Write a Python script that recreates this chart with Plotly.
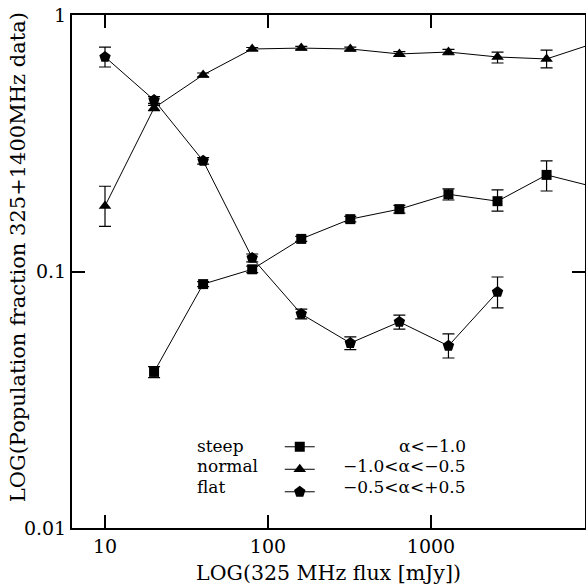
import math
import plotly.graph_objects as go

# Data
x_flat = [10, 20, 40, 80, 160, 320, 640, 1280, 2560]
y_flat = [0.686, 0.466, 0.270, 0.113, 0.0683, 0.0526, 0.0636, 0.0513, 0.0832]
e_flat_up = [0.064, 0.015, 0.008, 0.004, 0.003, 0.003, 0.004, 0.0058, 0.012]
e_flat_dn = [0.059, 0.014, 0.008, 0.004, 0.003, 0.003, 0.004, 0.0053, 0.011]

x_normal = [10, 20, 40, 80, 160, 320, 640, 1280, 2560, 5120, 10240]
y_normal = [0.180, 0.434, 0.584, 0.737, 0.743, 0.737, 0.705, 0.717, 0.686, 0.674, 0.779]
e_normal_up = [0.035, 0.010, 0.010, 0.010, 0.012, 0.012, 0.015, 0.017, 0.031, 0.056, 0.06]
e_normal_dn = [0.030, 0.010, 0.010, 0.010, 0.012, 0.012, 0.015, 0.017, 0.036, 0.052, 0.06]

x_steep = [20, 40, 80, 160, 320, 640, 1280, 2560, 5120, 10240]
y_steep = [0.0406, 0.0893, 0.102, 0.134, 0.160, 0.175, 0.200, 0.188, 0.238, 0.213]
e_steep_up = [0.002, 0.002, 0.003, 0.003, 0.004, 0.006, 0.010, 0.020, 0.032, 0.03]
e_steep_dn = [0.002, 0.002, 0.003, 0.003, 0.004, 0.006, 0.010, 0.016, 0.032, 0.03]

names = ["steep", "normal", "flat"]
alpha_labels = ["\u03b1<\u22121.0", "\u22121.0<\u03b1<\u22120.5", "\u22120.5<\u03b1<+0.5"]

x_ticks = [10, 100, 1000]
x_ticktext = ["10", "100", "1000"]
y_ticks = [0.01, 0.1, 1]
y_ticktext = ["0.01", "0.1", "1"]

X_RANGE = [0.7975, 3.945]
Y_RANGE = [-2, 0]

x_minor = [m * 10 ** d for d in range(0, 4) for m in range(2, 10)
           if X_RANGE[0] < math.log10(m * 10 ** d) < X_RANGE[1]]
y_minor = [m * 10 ** d for d in range(-2, 0) for m in range(2, 10)]

FONT = "DejaVu Serif"
BLACK = "black"
MAJOR_LEN = 13
MINOR_LEN = 6

fig = go.Figure()

def add_series(x, y, eu, ed, symbol, size):
    fig.add_trace(go.Scatter(
        x=x, y=y, mode="lines+markers", name=" ",
        line=dict(color=BLACK, width=1),
        marker=dict(symbol=symbol, size=size, color=BLACK),
        error_y=dict(type="data", array=eu, arrayminus=ed, symmetric=False,
                     color=BLACK, thickness=1.2, width=6),
        showlegend=True,
    ))

add_series(x_steep, y_steep, e_steep_up, e_steep_dn, "square", 10)
add_series(x_normal, y_normal, e_normal_up, e_normal_dn, "triangle-up", 11)
add_series(x_flat, y_flat, e_flat_up, e_flat_dn, "pentagon", 12)

# Legend texts
row_y = [0.160, 0.121, 0.080]
for n, a, yy in zip(names, alpha_labels, row_y):
    fig.add_annotation(x=0.2398, y=yy, xref="paper", yref="paper", text=n,
                       showarrow=False, xanchor="left", yanchor="middle",
                       font=dict(family=FONT, size=17, color=BLACK))
    fig.add_annotation(x=0.772, y=yy, xref="paper", yref="paper", text=a,
                       showarrow=False, xanchor="right", yanchor="middle",
                       font=dict(family=FONT, size=17, color=BLACK))

# Y axis title
fig.add_annotation(x=-0.105, y=0.528, xref="paper", yref="paper",
                   text="LOG(Population fraction 325+1400MHz data)",
                   textangle=-90, showarrow=False,
                   xanchor="center", yanchor="middle",
                   font=dict(family=FONT, size=21, color=BLACK))

# Tick marks on all four sides (placed through the axes' own log scale)
tick_line = dict(color=BLACK, width=1.6)
for vals, ln in ((x_ticks, MAJOR_LEN), (x_minor, MINOR_LEN)):
    for v in vals:
        lv = math.log10(v)
        for anchor, sgn in ((0, 1), (1, -1)):
            fig.add_shape(type="line", xref="x", yref="paper",
                          x0=lv, x1=lv, ysizemode="pixel", yanchor=anchor,
                          y0=0, y1=sgn * ln, line=tick_line, layer="above")
for vals, ln in ((y_ticks, MAJOR_LEN), (y_minor, MINOR_LEN)):
    for v in vals:
        lv = math.log10(v)
        for anchor, sgn in ((0, 1), (1, -1)):
            fig.add_shape(type="line", yref="y", xref="paper",
                          y0=lv, y1=lv, xsizemode="pixel", xanchor=anchor,
                          x0=0, x1=sgn * ln, line=tick_line, layer="above")

fig.update_layout(
    xaxis=dict(
        type="log", range=X_RANGE,
        tickmode="array", tickvals=x_ticks, ticktext=x_ticktext,
        ticks="inside", ticklen=MAJOR_LEN, tickwidth=1.6, tickcolor=BLACK,
        showline=True, linecolor=BLACK, linewidth=2, mirror="allticks",
        showgrid=False, zeroline=False, automargin=False,
        tickfont=dict(family=FONT, size=19, color=BLACK),
        title=dict(text="LOG(325 MHz flux [mJy])",
                   font=dict(family=FONT, size=20.5, color=BLACK), standoff=13),
    ),
    yaxis=dict(
        type="log", range=Y_RANGE,
        tickmode="array", tickvals=y_ticks, ticktext=y_ticktext,
        ticks="inside", ticklen=MAJOR_LEN, tickwidth=1.6, tickcolor=BLACK,
        showline=True, linecolor=BLACK, linewidth=2, mirror="allticks",
        showgrid=False, zeroline=False, automargin=False,
        tickfont=dict(family=FONT, size=19, color=BLACK),
    ),
    width=586, height=585,
    margin=dict(l=72, r=1, t=15, b=57, autoexpand=False),
    paper_bgcolor="white", plot_bgcolor="white",
    showlegend=True,
    legend=dict(x=0.405, y=0.19, xanchor="left", yanchor="top",
                bgcolor="rgba(0,0,0,0)", borderwidth=0,
                font=dict(family=FONT, size=15, color=BLACK),
                tracegroupgap=0),
)

fig.write_html(
    "out.html",
    config={"displayModeBar": False},
    post_script="document.body.style.margin='0';document.body.style.padding='0';",
)
